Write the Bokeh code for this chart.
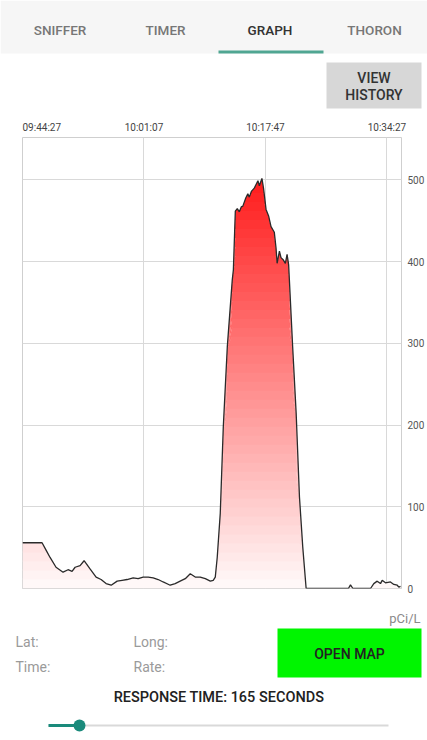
import numpy as np
import pandas as pd
from bokeh.plotting import figure
from bokeh.models import ColumnDataSource, FixedTicker, Label, LabelSet, BoxAnnotation, Range1d
from bokeh.core.properties import value, field
from bokeh.embed import file_html
from bokeh.resources import INLINE

DAY = "2020-01-01 "

# ---- data ----
times = [
    "09:44:27", "09:47:08", "09:47:41", "09:48:14", "09:49:03", "09:50:01", "09:50:42", "09:51:15",
    "09:51:40", "09:52:21", "09:52:54", "09:53:43", "09:54:33", "09:55:14", "09:55:55", "09:56:37",
    "09:57:26", "09:58:07", "09:58:48", "09:59:38", "10:00:19", "10:01:00", "10:01:42", "10:02:23",
    "10:03:04", "10:03:45", "10:04:43", "10:05:24", "10:06:05", "10:06:47", "10:07:28", "10:08:09",
    "10:08:50", "10:09:32", "10:10:13", "10:10:37", "10:10:54", "10:11:10", "10:11:35", "10:12:00",
    "10:12:33", "10:13:14", "10:13:23", "10:13:39", "10:13:55", "10:14:12", "10:14:28", "10:14:41",
    "10:15:05", "10:15:22", "10:15:34", "10:15:51", "10:16:15", "10:16:45", "10:16:57", "10:17:18",
    "10:17:32", "10:17:52", "10:18:13", "10:18:33", "10:19:00", "10:19:14", "10:19:23", "10:19:42",
    "10:19:55", "10:20:15", "10:20:31", "10:20:45", "10:20:58", "10:21:04", "10:21:31", "10:22:00",
    "10:22:27", "10:22:54", "10:23:22", "10:29:10", "10:29:27", "10:29:47", "10:32:12", "10:32:39",
    "10:33:07", "10:33:34", "10:33:48", "10:34:15", "10:34:56", "10:35:24", "10:35:52", "10:36:05",
    "10:36:19",
]
values = [
    56, 56, 47, 38, 26, 20, 23, 21, 26, 28,
    34, 24, 14, 11, 6, 4, 9, 10, 11, 13,
    12, 14, 14, 13, 11, 8, 4, 6, 9, 12,
    18, 14, 14, 12, 9, 10, 14, 38, 92, 198,
    296, 378, 390, 462, 465, 461, 467, 468, 478, 483,
    479, 486, 490, 499, 493, 502, 489, 464, 456, 443,
    436, 417, 398, 413, 405, 402, 398, 409, 396, 378,
    296, 214, 112, 51, 0, 0, 4.5, 0, 0, 6,
    9, 6, 10, 7, 8, 5, 4, 1.6, 2.5,
]
x_tick_times = ["09:44:27", "10:01:07", "10:17:47", "10:34:27"]
x_tick_labels = ["09:44:27", "10:01:07", "10:17:47", "10:34:27"]
x_tick_align = ["left", "center", "center", "center"]
x_start, x_end = "09:44:27", "10:36:27"
y_ticks = [0, 100, 200, 300, 400, 500]
y_max = 552
unit_label = "pCi/L"
tabs = ["SNIFFER", "TIMER", "GRAPH", "THORON"]
active_tab = "GRAPH"
response_seconds = 165


def ts(s):
    return pd.Timestamp(DAY + s)


def ms(s):
    return ts(s).value // 10**6


t = pd.to_datetime([DAY + s for s in times])
v = np.array(values, dtype=float)

W = 427
BL, BR = 22, 26          # chart frame borders (left / right)
TOP_H, CHART_H = 133, 463
BOT_H = 740 - TOP_H - CHART_H
FONT = "Roboto"
FONT_M = "Roboto Medium"


def ui_figure(h, y0):
    f = figure(width=W, height=h, x_range=Range1d(0, W), y_range=Range1d(y0 + h, y0),
               x_axis_location=None, y_axis_location=None, min_border=0,
               output_backend="svg", toolbar_location=None)
    f.grid.visible = False
    f.outline_line_color = None
    f.background_fill_color = "white"
    f.border_fill_color = "white"
    return f


def box(f, l, r, top, bot, color, radius=0):
    b = BoxAnnotation(left=l, right=r, top=top, bottom=bot, fill_color=color, fill_alpha=1,
                      line_color=None, level="underlay")
    if radius:
        b.border_radius = radius
    f.add_layout(b)


def label(f, x, y, text, size, color, align="center", font=FONT):
    f.add_layout(Label(x=x, y=y, text=text, text_align=align, text_baseline="middle",
                       text_font=font, text_font_size=size, text_color=color))


# ---------------- top bar ----------------
top = ui_figure(TOP_H, 0)
box(top, 0, W, 0, 53, "#f6f6f6")
for name, x in zip(tabs, [59.5, 165, 269.5, 374]):
    label(top, x, 29, name, "13.5px", "#333333" if name == active_tab else "#777777", font=FONT_M)
box(top, 218, 323, 50, 53, "#50a692")
box(top, 326, 421, 62, 108, "#d7d7d7")
label(top, 373.5, 77, "VIEW", "14px", "#333333", font=FONT_M)
label(top, 373.5, 94.5, "HISTORY", "14px", "#333333", font=FONT_M)

# time labels, on a time scale matched to the chart frame
span = (ts(x_end) - ts(x_start)).total_seconds()
spp = span / (W - BL - BR)
top.extra_x_ranges = {"time": Range1d(ts(x_start) - pd.Timedelta(seconds=BL * spp),
                                      ts(x_end) + pd.Timedelta(seconds=BR * spp))}
xsrc = ColumnDataSource(dict(x=pd.to_datetime([DAY + s for s in x_tick_times]),
                             y=[127] * len(x_tick_times), text=x_tick_labels, align=x_tick_align))
top.add_layout(LabelSet(x="x", y="y", text="text", source=xsrc, x_range_name="time",
                        text_align=field("align"), text_baseline="middle",
                        text_font=value(FONT), text_font_size="10px", text_color="#444444"))

# ---------------- chart ----------------
p = figure(width=W, height=CHART_H, x_axis_type="datetime", y_axis_location="right",
           output_backend="svg", toolbar_location=None,
           x_range=Range1d(ts(x_start), ts(x_end)), y_range=Range1d(0, y_max),
           min_border_left=BL, min_border_right=BR, min_border_top=4, min_border_bottom=8)
p.background_fill_color = "white"
p.border_fill_color = "white"
p.outline_line_color = "#cfcfcf"

edges = np.linspace(0, 506, 47)
for lo, hi in zip(edges[:-1], edges[1:]):
    f = min(1.0, (lo + hi) / 2 / 500)
    g = int(round(250 - 222 * f))
    color = "#ff%02x%02x" % (g, g)
    p.varea(x=t, y1=np.minimum(v, lo), y2=np.minimum(v, hi + 1.2), fill_color=color, fill_alpha=1)

p.line(t, v, line_color="#2a2a2a", line_width=1.3)

p.xaxis.visible = False
p.xgrid.ticker = FixedTicker(ticks=[ms(s) for s in x_tick_times])
p.yaxis.ticker = FixedTicker(ticks=y_ticks)
p.ygrid.ticker = FixedTicker(ticks=y_ticks)
p.grid.grid_line_color = "#d9d9d9"
p.grid.grid_line_width = 1
ax = p.yaxis[0]
ax.axis_line_color = None
ax.major_tick_line_color = None
ax.minor_tick_line_color = None
ax.major_tick_out = 0
ax.minor_tick_out = 0
ax.major_label_text_font = FONT
ax.major_label_text_font_size = "10px"
ax.major_label_text_color = "#555555"
ax.major_label_standoff = 6

# ---------------- bottom controls ----------------
bot = ui_figure(BOT_H, TOP_H + CHART_H)
label(bot, 420, 618, unit_label, "13px", "#8a8a8a", align="right")
label(bot, 15, 641.5, "Lat:", "14px", "#9a9a9a", align="left")
label(bot, 133, 641.5, "Long:", "14px", "#9a9a9a", align="left")
label(bot, 15, 666, "Time:", "14px", "#9a9a9a", align="left")
label(bot, 133, 666, "Rate:", "14px", "#9a9a9a", align="left")
box(bot, 277, 421, 628, 677, "#00f500")
label(bot, 349, 653, "OPEN MAP", "14px", "#222222", font=FONT_M)
label(bot, 218.5, 697, "RESPONSE TIME: %d SECONDS" % response_seconds, "14.5px", "#222222", font=FONT_M)
box(bot, 48, 388, 724, 726, "#d9d9d9")
box(bot, 48, 79, 723.5, 726.5, "#1a8a7b")
box(bot, 73, 85, 719, 731, "#1a8a7b", radius=6)

open("out.html", "w").write(file_html([top, p, bot], INLINE))
